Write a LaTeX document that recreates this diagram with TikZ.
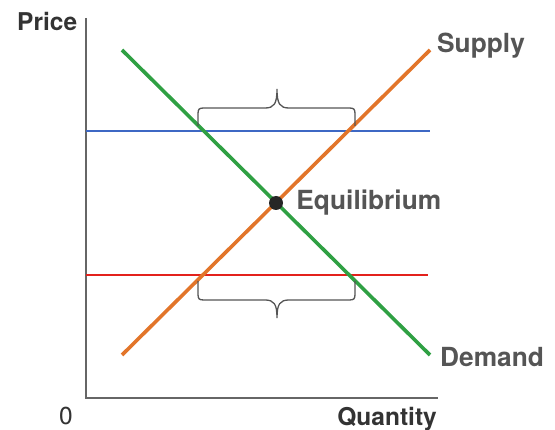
\documentclass[tikz,border=0pt]{standalone}
\usepackage{fontspec}
\setmainfont{TeX Gyre Heros}
\usepackage{tikz}
\usetikzlibrary{positioning, calc}

\definecolor{axisgray}{HTML}{666666}
\definecolor{txtdark}{HTML}{333333}
\definecolor{txtgray}{HTML}{555555}
\definecolor{demgreen}{HTML}{2FA043}
\definecolor{suporange}{HTML}{E2752A}
\definecolor{hiblue}{HTML}{3D68C4}
\definecolor{lored}{HTML}{E3211C}

\begin{document}
\begin{tikzpicture}[
  x=1pt, y=-1pt,
  lbl/.style={font=\fontsize{26.3}{26}\selectfont\bfseries, text=txtgray, inner sep=0pt},
  axlbl/.style={lbl, font=\fontsize{24.5}{24}\selectfont\bfseries, text=txtdark},
  axis/.style={draw=axisgray, line width=1.4pt},
  curve/.style={line width=3.6pt},
  level/.style={line width=1.3pt},
  brace/.style={draw=txtgray, line width=1.3pt},
]
\useasboundingbox (0,0) rectangle (555,430);
% axes
\coordinate (top) at (86,18);
\coordinate (orig) at (86,398);
\coordinate (xend) at (438,398);
\draw[axis] (top) -- (orig) -- (xend);
\node[axlbl, anchor=base west] (price) at (17,31) {Price};
\node[axlbl, font=\fontsize{24.5}{24}\selectfont, anchor=base] (zero) at (66,425) {0};
\node[axlbl, anchor=base east] (qty) at (437,426) {Quantity};

% price levels
\coordinate (b0) at (86,131); \coordinate (b1) at (430,131);
\coordinate (r0) at (86,275); \coordinate (r1) at (428,275);
\draw[level, hiblue] (b0) -- (b1);
\draw[level, lored] (r0) -- (r1);

% supply and demand
\coordinate (d0) at (122,50); \coordinate (d1) at (430,355);
\coordinate (s0) at (122,355); \coordinate (s1) at (430,50);
\draw[curve, demgreen] (d0) -- (d1);
\draw[curve, suporange] (s0) -- (s1);
\node[lbl, anchor=west] (sup) at (437,46) {Supply};
\node[lbl, anchor=west] (dem) at (440,357) {Demand};

% braces
\draw[brace] (198,126) -- (198,114) .. controls (198,109) and (199,108) .. (204,108)
  -- (265,108) .. controls (274,108) and (277,104) .. (277,89)
  .. controls (277,104) and (280,108) .. (289,108) -- (349,108)
  .. controls (354,108) and (355,109) .. (355,114) -- (355,126);
\draw[brace] (198,281) -- (198,294) .. controls (198,299) and (199,300) .. (204,300)
  -- (265,300) .. controls (274,300) and (277,304) .. (277,318)
  .. controls (277,304) and (280,300) .. (289,300) -- (349,300)
  .. controls (354,300) and (355,299) .. (355,294) -- (355,281);

% equilibrium
\node[circle, fill=black!85, minimum size=14pt, inner sep=0pt] (eq) at (276,203) {};
\node[lbl, right=13pt of eq] (eqlbl) {Equilibrium};
\end{tikzpicture}
\end{document}
